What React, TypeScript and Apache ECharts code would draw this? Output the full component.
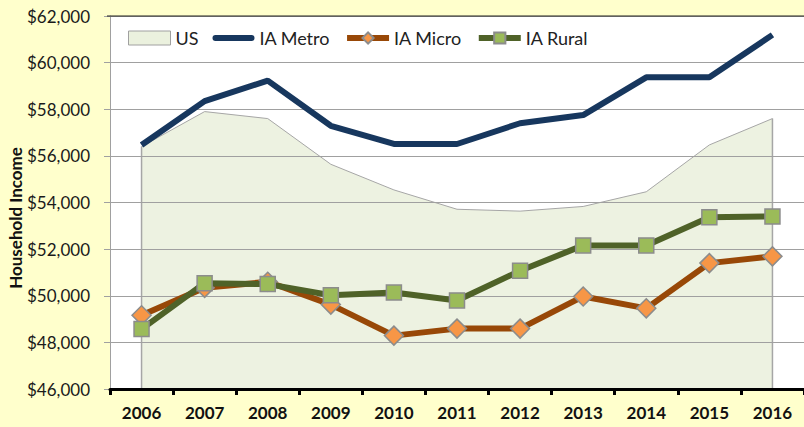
import React, { useEffect, useRef } from "react";
import * as echarts from "echarts";

const years = ["2006", "2007", "2008", "2009", "2010", "2011", "2012", "2013", "2014", "2015", "2016"];
const usValues = [56400, 57900, 57600, 55640, 54540, 53710, 53630, 53830, 54460, 56470, 57600];
const metroValues = [56470, 58350, 59230, 57290, 56510, 56510, 57400, 57750, 59370, 59370, 61190];
const microValues = [49160, 50340, 50600, 49620, 48290, 48590, 48590, 49970, 49460, 51400, 51690];
const ruralValues = [48570, 50540, 50500, 50020, 50140, 49800, 51070, 52160, 52160, 53370, 53400];
const yMin = 46000;
const yMax = 62000;
const yStep = 2000;

const FONT = "Lato, 'Open Sans', sans-serif";

export default function App() {
  const ref = useRef<HTMLDivElement>(null);
  useEffect(() => {
    if (!ref.current) return;
    const chart = echarts.init(ref.current, null, { renderer: "svg" });
    const edgeData = [
      [0, usValues[0]],
      [years.length - 1, usValues[years.length - 1]],
    ];
    chart.setOption({
      animation: false,
      backgroundColor: "#FFFFCC",
      textStyle: { fontFamily: FONT },
      grid: {
        left: 110,
        top: 16,
        right: 0,
        bottom: 38,
        show: true,
        backgroundColor: "#FFFFFF",
        borderWidth: 0,
      },
      legend: {
        left: 123,
        top: 24,
        itemWidth: 42,
        itemHeight: 14,
        itemGap: 14,
        lineStyle: { width: 6 },
        textStyle: { fontSize: 18, color: "#222222", fontFamily: FONT },
        data: [
          {
            name: "US",
            icon: "rect",
            itemStyle: { color: "#EBF1DE", borderColor: "#A0A0A0", borderWidth: 1 },
          },
          {
            name: "IA Metro",
            icon: "path://M3,0 L39,0 A3,3 0 0 1 39,6 L3,6 A3,3 0 0 1 3,0 Z",
            itemStyle: { color: "#17375E" },
          },
          { name: "IA Micro", lineStyle: { width: 6, color: "#984807" } },
          { name: "IA Rural", lineStyle: { width: 6, color: "#4F6228" } },
        ],
      },
      xAxis: {
        type: "category",
        data: years,
        boundaryGap: true,
        z: 4,
        axisLine: { show: true, lineStyle: { color: "#000000", width: 3 } },
        axisTick: { show: true, length: 6, lineStyle: { color: "#000000", width: 3 } },
        axisLabel: {
          fontSize: 17,
          fontWeight: "bold",
          color: "#111111",
          margin: 15,
          fontFamily: FONT,
        },
        splitLine: { show: false },
      },
      yAxis: {
        type: "value",
        min: yMin,
        max: yMax,
        interval: yStep,
        z: 1,
        axisLine: { show: true, lineStyle: { color: "#A0A0A0", width: 1 } },
        axisTick: { show: true, length: 6, lineStyle: { color: "#A0A0A0" } },
        axisLabel: {
          fontSize: 17,
          color: "#1A1A1A",
          margin: 20,
          fontFamily: FONT,
          formatter: (v: number) => "$" + v.toLocaleString("en-US"),
        },
        splitLine: { show: true, lineStyle: { color: "#A0A0A0", width: 1 } },
      },
      series: [
        {
          name: "US",
          type: "line",
          data: usValues,
          z: 0,
          symbol: "none",
          itemStyle: { color: "#EBF1DE", borderColor: "#A0A0A0" },
          lineStyle: { color: "#A6A6A6", width: 1 },
          areaStyle: { color: "#EBF1DE", opacity: 0.9, origin: "start" },
        },
        {
          name: "USedges",
          type: "custom",
          z: 0,
          data: edgeData,
          renderItem: (params: any, api: any) => {
            const p1 = api.coord([api.value(0), api.value(1)]);
            const p2 = api.coord([api.value(0), yMin]);
            return {
              type: "line",
              shape: { x1: p1[0], y1: p1[1], x2: p2[0], y2: p2[1] },
              style: { stroke: "#A6A6A6", lineWidth: 1.5 },
            };
          },
        },
        {
          name: "IA Metro",
          type: "line",
          data: metroValues,
          z: 3,
          symbol: "none",
          itemStyle: { color: "#17375E" },
          lineStyle: { color: "#17375E", width: 6 },
        },
        {
          name: "IA Micro",
          type: "line",
          data: microValues,
          z: 3,
          symbol: "diamond",
          symbolSize: 19,
          itemStyle: { color: "#F79646", borderColor: "#8C8C8C", borderWidth: 1.5 },
          lineStyle: { color: "#984807", width: 6 },
        },
        {
          name: "IA Rural",
          type: "line",
          data: ruralValues,
          z: 4,
          symbol: "rect",
          symbolSize: 15,
          itemStyle: { color: "#9BBB59", borderColor: "#8C8C8C", borderWidth: 1.5 },
          lineStyle: { color: "#4F6228", width: 6 },
        },
      ],
      graphic: [
        {
          type: "line",
          shape: { x1: 107, y1: 16, x2: 804, y2: 16 },
          style: { stroke: "#222222", lineWidth: 1 },
          z: 10,
        },
        {
          type: "text",
          x: 368,
          y: -3,
          style: {
            text: "Median Household Income (2016$)",
            font: "bold 20px " + FONT,
            fill: "#111111",
            align: "right",
            verticalAlign: "bottom",
          },
        },
        {
          type: "text",
          x: 15,
          y: 218,
          rotation: Math.PI / 2,
          style: {
            text: "Household Income",
            font: "bold 17px " + FONT,
            fill: "#111111",
            align: "center",
            verticalAlign: "middle",
          },
        },
      ],
    });
    return () => chart.dispose();
  }, []);
  return (
    <div
      ref={ref}
      style={{ position: "fixed", left: 0, top: 0, width: 804, height: 427 }}
    />
  );
}
